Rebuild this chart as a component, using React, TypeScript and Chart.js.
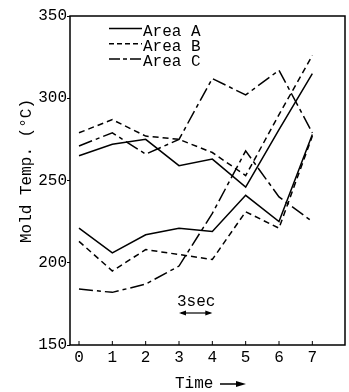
import { useEffect, useRef } from "react";
import { Chart, registerables } from "chart.js";
Chart.register(...registerables);

const times = [0, 1, 2, 3, 4, 5, 6, 7];
const areaA1 = [265, 272, 275, 259, 263, 246, 281, 315];
const areaA2 = [221, 206, 217, 221, 219, 241, 225, 278];
const areaB1 = [279, 287, 277, 275, 267, 253, 290, 326];
const areaB2 = [213, 195, 208, 205, 202, 231, 221, 277];
const areaC1 = [271, 279, 266, 275, 312, 302, 317, 279];
const areaC2 = [184, 182, 187, 198, 230, 268, 240, 225];
const yTicks = [150, 200, 250, 300, 350];
const legendLabels = ["Area A", "Area B", "Area C"];
const yTitle = "Mold Temp. (°C)";
const xTitle = "Time";
const noteText = "3sec";

const FONT = "'Liberation Mono', 'DejaVu Sans Mono', monospace";
const dashA: number[] = [];
const dashB = [6, 4];
const dashC = [14, 4, 4, 4];

function pts(vals: number[]) {
  return vals.map((v, i) => ({ x: times[i], y: v }));
}

export default function App() {
  const ref = useRef<HTMLCanvasElement | null>(null);
  useEffect(() => {
    document.body.style.margin = "0";
    const canvas = ref.current!;
    const ds = (vals: number[], dash: number[]) => ({
      data: pts(vals),
      borderColor: "#000",
      borderWidth: 1.5,
      borderDash: dash,
      pointRadius: 0,
      tension: 0,
      fill: false,
    });
    const deco = {
      id: "deco",
      afterDraw(chart: any) {
        const ctx = chart.ctx;
        const a = chart.chartArea;
        const xs = chart.scales.x;
        ctx.save();
        ctx.strokeStyle = "#000";
        ctx.fillStyle = "#000";
        ctx.lineWidth = 1.5;
        ctx.setLineDash([]);
        ctx.strokeRect(a.left, a.top, a.right - a.left, a.bottom - a.top);
        // inner x ticks
        ctx.lineWidth = 1;
        for (const t of times) {
          const px = xs.getPixelForValue(t);
          ctx.beginPath();
          ctx.moveTo(px, a.bottom);
          ctx.lineTo(px, a.bottom - 4);
          ctx.stroke();
        }
        // legend
        ctx.font = "16px " + FONT;
        ctx.textBaseline = "middle";
        ctx.textAlign = "left";
        legendLabels.forEach((lab, i) => {
          const cy = 31.5 + i * 15.3;
          ctx.lineWidth = 1.5;
          ctx.setLineDash(i === 2 ? [11, 3, 4, 3] : i === 1 ? [5, 3] : []);
          ctx.beginPath();
          ctx.moveTo(109, cy - 3);
          ctx.lineTo(142, cy - 3);
          ctx.stroke();
          ctx.setLineDash([]);
          ctx.fillText(lab, 143, cy);
        });
        // y title
        ctx.save();
        ctx.translate(27, 171);
        ctx.rotate(-Math.PI / 2);
        ctx.textAlign = "center";
        ctx.fillText(yTitle, 0, 0);
        ctx.restore();
        // x title with arrow
        ctx.textAlign = "left";
        ctx.fillText(xTitle, 175, 384);
        ctx.lineWidth = 1.5;
        ctx.beginPath();
        ctx.moveTo(220, 384);
        ctx.lineTo(240, 384);
        ctx.stroke();
        ctx.beginPath();
        ctx.moveTo(246, 384);
        ctx.lineTo(236, 381);
        ctx.lineTo(236, 387);
        ctx.closePath();
        ctx.fill();
        // 3sec annotation
        ctx.fillText(noteText, 177, 302);
        const x3 = xs.getPixelForValue(3);
        const x4 = xs.getPixelForValue(4);
        const ay = 313;
        ctx.lineWidth = 1.2;
        ctx.beginPath();
        ctx.moveTo(x3 + 2, ay);
        ctx.lineTo(x4 - 2, ay);
        ctx.stroke();
        ctx.beginPath();
        ctx.moveTo(x3, ay);
        ctx.lineTo(x3 + 7, ay - 2.5);
        ctx.lineTo(x3 + 7, ay + 2.5);
        ctx.closePath();
        ctx.fill();
        ctx.beginPath();
        ctx.moveTo(x4, ay);
        ctx.lineTo(x4 - 7, ay - 2.5);
        ctx.lineTo(x4 - 7, ay + 2.5);
        ctx.closePath();
        ctx.fill();
        ctx.restore();
      },
    };
    const chart = new Chart(canvas, {
      type: "line",
      data: {
        datasets: [
          ds(areaA1, dashA),
          ds(areaA2, dashA),
          ds(areaB1, dashB),
          ds(areaB2, dashB),
          ds(areaC1, dashC),
          ds(areaC2, dashC),
        ],
      },
      options: {
        animation: false,
        responsive: false,
        maintainAspectRatio: false,
        layout: { padding: { top: 16, right: 4, left: 0, bottom: 0 } },
        plugins: { legend: { display: false }, tooltip: { enabled: false }, title: { display: false } },
        scales: {
          x: {
            type: "linear",
            min: -0.27,
            max: 7.98,
            afterBuildTicks: (s: any) => {
              s.ticks = times.map((t) => ({ value: t }));
            },
            afterFit: (s: any) => {
              s.height = 47;
            },
            grid: { display: false },
            border: { display: false },
            ticks: {
              color: "#000",
              padding: -5,
              maxRotation: 0,
              font: { family: FONT, size: 16 },
            },
          },
          y: {
            type: "linear",
            min: 150,
            max: 350,
            afterBuildTicks: (s: any) => {
              s.ticks = yTicks.map((t) => ({ value: t }));
            },
            afterFit: (s: any) => {
              s.width = 70;
            },
            grid: { drawOnChartArea: false, tickLength: 3, color: "#000", lineWidth: 1 },
            border: { display: false },
            ticks: {
              color: "#000",
              padding: 0,
              font: { family: FONT, size: 16 },
            },
          },
        },
      } as any,
      plugins: [deco],
    });
    return () => chart.destroy();
  }, []);
  return (
    <div style={{ width: 349, height: 392, background: "#fff" }}>
      <canvas ref={ref} width={349} height={392} style={{ display: "block" }} />
    </div>
  );
}
